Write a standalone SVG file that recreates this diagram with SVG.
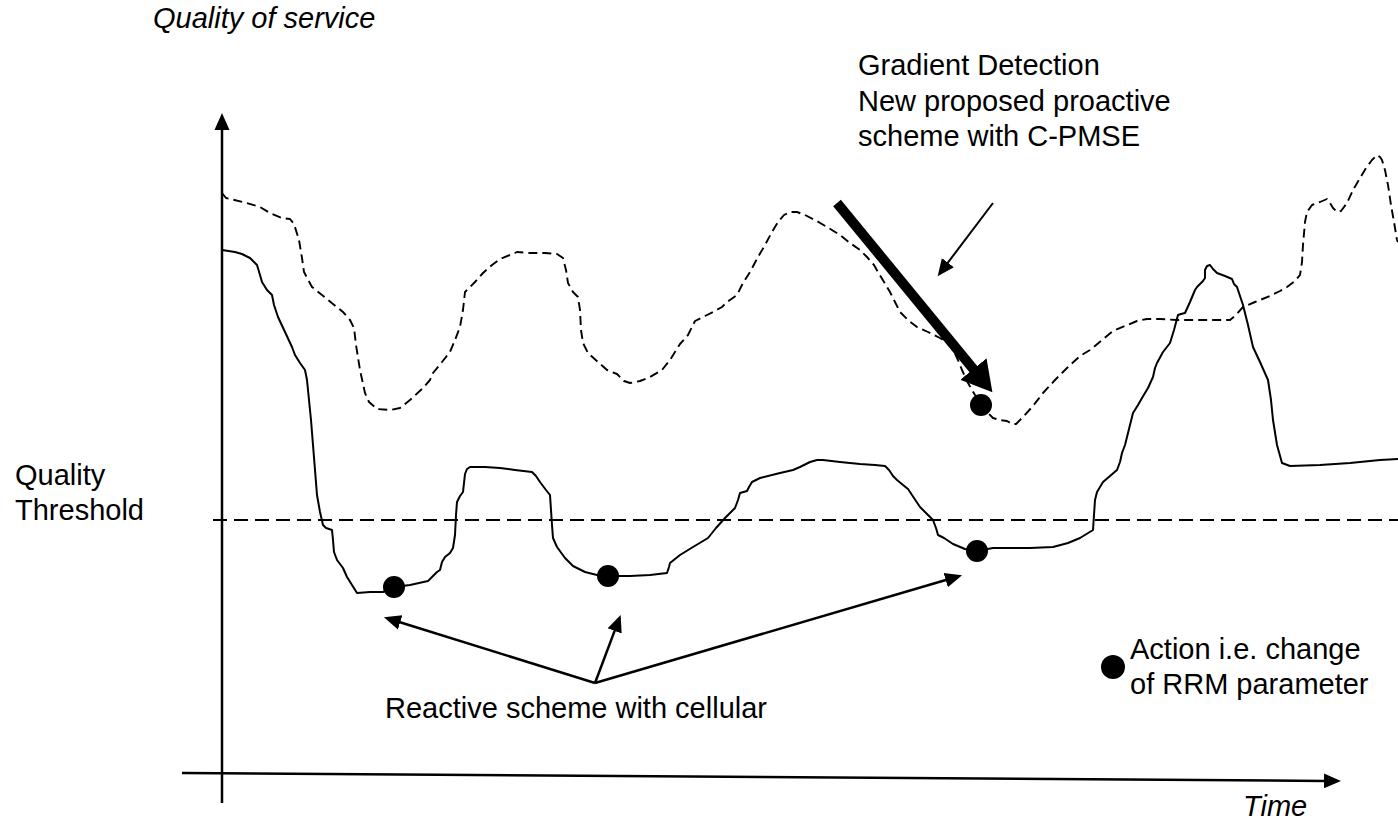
<svg xmlns="http://www.w3.org/2000/svg" width="1398" height="821" viewBox="0 0 1398 821">
  <style>
    .lbl { font-family: "Liberation Sans", Arial, sans-serif; font-size: 29px; fill: #000; }
    .it { font-style: italic; }
    .axis { stroke: #000; stroke-width: 2.5; fill: none; }
    .conn { stroke: #000; stroke-width: 2.5; fill: none; }
    .thin { stroke: #000; stroke-width: 2; fill: none; }
    .bold { stroke: #000; stroke-width: 10; fill: none; }
    .proactive { stroke: #000; stroke-width: 1.9; fill: none; stroke-dasharray: 9 5; stroke-linejoin: round; }
    .reactive { stroke: #000; stroke-width: 2; fill: none; stroke-linejoin: round; }
    .threshold { stroke: #000; stroke-width: 2; fill: none; stroke-dasharray: 14 7; }
    .action { fill: #000; }
  </style>
  <defs>
    <marker id="head" markerUnits="userSpaceOnUse" markerWidth="20" markerHeight="20" viewBox="0 -10 20 20" refX="1" refY="0" orient="auto">
      <path d="M0,-7.5 L17,0 L0,7.5 Z" fill="#000"/>
    </marker>
    <marker id="bighead" markerUnits="userSpaceOnUse" markerWidth="34" markerHeight="40" viewBox="0 -20 34 40" refX="1" refY="0" orient="auto">
      <path d="M0,-17 L30,0 L0,17 Z" fill="#000"/>
    </marker>
  </defs>

  <rect width="1398" height="821" fill="#fff"/>

  <!-- axes -->
  <g id="axes">
    <line class="axis" x1="222" y1="803" x2="222" y2="129" marker-end="url(#head)"/>
    <line class="axis" x1="182" y1="773" x2="1325" y2="780.9" marker-end="url(#head)"/>
    <text class="lbl it" x="153" y="28">Quality of service</text>
    <text class="lbl it" x="1243" y="816">Time</text>
  </g>

  <!-- threshold -->
  <g id="threshold">
    <line class="threshold" x1="213" y1="520" x2="1398" y2="520"/>
    <text class="lbl" x="15" y="485">Quality</text>
    <text class="lbl" x="15" y="520">Threshold</text>
  </g>

  <!-- proactive (C-PMSE) quality trace -->
  <g id="proactive-trace">
    <polyline class="proactive" points="222,193 226,198 243,202 260,207 270,213 282,218 290,219 294,224 299,240 302,258 304,272 312,287 322,295 333,304 343,312 350,320 354,328 356,345 360,370 365,393 369,402 377,409 390,410 400,408 410,400 423,388 430,380 433,373 442,362 450,352 455,340 460,327 463,310 465,292 475,282 483,273 492,265 500,259 510,255 517,252 530,253 545,253 557,254 563,258 566,270 568,283 573,292 578,297 580,310 581,330 583,343 588,353 598,362 607,370 617,374 624,381 630,383 640,381 650,377 662,370 670,360 680,344 688,335 695,321 705,316 713,312 722,307 727,302 737,295 743,283 750,272 758,257 765,245 772,232 778,222 784,215 790,212 797,212 805,215 815,220 827,227 840,235 850,243 860,250 867,257 874,265 878,272 884,282 890,292 895,302 900,312 908,320 917,327 928,332 940,338 948,343 953,349 958,360 962,370 968,383 975,395 982,405 988,413 993,418 1000,420 1007,421 1012,424 1016,424 1023,417 1033,406 1043,393 1055,380 1068,367 1080,356 1090,350 1102,340 1113,331 1125,326 1137,321 1147,319 1160,319 1177,320 1200,320 1230,320 1236,315 1243,307 1255,302 1270,296 1280,291 1287,287 1295,281 1300,275 1302,262 1303,245 1305,222 1307,212 1312,205 1320,202 1327,199 1330,203 1333,208 1337,212 1341,211 1347,203 1353,190 1360,178 1366,168 1372,160 1377,155 1380,157 1382,160 1385,170 1388,185 1391,205 1394,222 1397,240 1398,242"/>
  </g>

  <!-- reactive (cellular) quality trace -->
  <g id="reactive-trace">
    <polyline class="reactive" points="222,250 235,252 242,254 250,258 257,265 260,275 262,282 267,290 272,295 274,305 278,317 285,332 292,347 295,355 300,363 305,370 307,380 309,400 311,420 313,445 315,470 317,495 320,512 323,525 326,528 332,530 333,540 334,552 337,560 343,568 347,577 352,585 357,593 370,592 383,592 394,587 410,585 428,581 433,576 437,572 440,570 442,562 445,557 450,553 453,548 455,535 456,515 457,502 460,496 463,492 464,483 465,474 467,469 470,467 485,467 500,468 515,470 532,472 536,476 540,482 546,490 550,495 551,510 552,525 553,538 557,547 565,558 573,566 585,572 597,575 608,576 630,576 650,575 667,573 669,567 670,563 675,559 680,555 693,547 708,538 716,528 725,518 735,508 738,500 740,493 747,491 749,487 752,482 760,478 780,473 793,470 800,467 810,462 817,460 823,460 840,462 860,464 875,465 885,466 889,470 893,476 897,480 903,485 908,489 912,495 916,501 920,507 927,514 933,520 936,528 938,535 944,538 953,544 965,549 977,551 993,548 1010,548 1030,548 1053,547 1068,543 1080,538 1093,530 1094,515 1095,500 1097,492 1103,482 1110,476 1117,470 1120,462 1122,453 1125,445 1127,437 1130,425 1133,413 1138,405 1142,398 1148,388 1153,377 1155,368 1157,363 1163,352 1170,343 1174,330 1178,315 1181,314 1185,313 1190,302 1195,290 1197,287 1203,281 1205,278 1205,270 1207,266 1210,265 1213,269 1217,273 1225,276 1232,279 1234,284 1237,287 1243,305 1248,325 1253,347 1260,362 1268,380 1271,400 1273,420 1277,445 1282,463 1290,466 1320,465 1350,463 1380,460 1398,459"/>
  </g>

  <!-- RRM actions -->
  <g id="actions">
    <circle class="action" cx="394" cy="587" r="11"/>
    <circle class="action" cx="608" cy="576" r="11"/>
    <circle class="action" cx="977" cy="551" r="11"/>
    <circle class="action" cx="981" cy="405" r="11"/>
  </g>

  <!-- annotation connectors -->
  <g id="connectors">
    <line class="conn" x1="595" y1="683" x2="399.2" y2="622" marker-end="url(#head)"/>
    <line class="conn" x1="595" y1="683" x2="615" y2="629.9" marker-end="url(#head)"/>
    <line class="conn" x1="595" y1="683" x2="946.7" y2="579.8" marker-end="url(#head)"/>
    <line class="thin" x1="993" y1="203" x2="947.3" y2="263.4" marker-end="url(#head)"/>
    <line class="bold" x1="837" y1="203" x2="974" y2="369.8" marker-end="url(#bighead)"/>
  </g>

  <!-- annotations -->
  <g id="gradient-label">
    <text class="lbl" x="858" y="75">Gradient Detection</text>
    <text class="lbl" x="858" y="110.5">New proposed proactive</text>
    <text class="lbl" x="858" y="146">scheme with C-PMSE</text>
  </g>
  <g id="reactive-label">
    <text class="lbl" x="385" y="718">Reactive scheme with cellular</text>
  </g>
  <g id="legend">
    <circle class="action" cx="1113" cy="667" r="12"/>
    <text class="lbl" x="1130" y="659">Action i.e. change</text>
    <text class="lbl" x="1130" y="694">of RRM parameter</text>
  </g>
</svg>
